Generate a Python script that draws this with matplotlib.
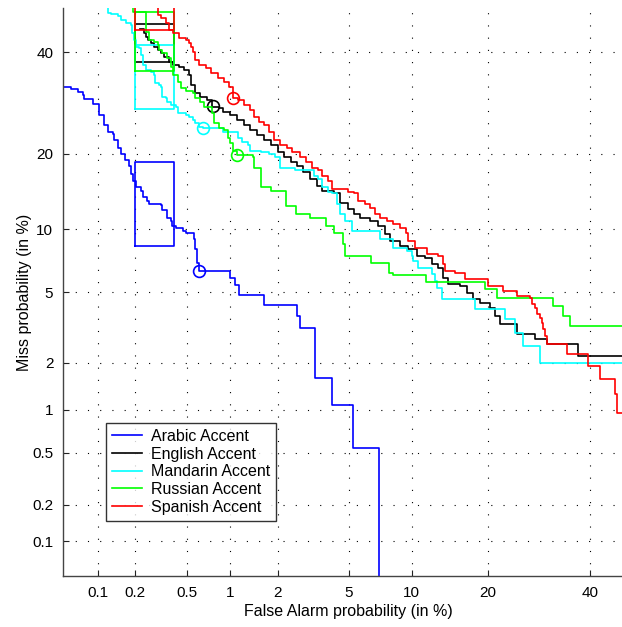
import math
import numpy as np
import matplotlib
matplotlib.use('Agg')
from matplotlib import pyplot as plt

plt.rcParams['font.family'] = ['Liberation Sans', 'DejaVu Sans']

# DET curves, values in % (false alarm, miss), drawn as steps
arabic_fa = [0.05, 0.0587, 0.0676, 0.0747, 0.0762, 0.0908, 0.1021, 0.1125, 0.1125, 0.1214,
             0.1336, 0.136, 0.1466, 0.1553, 0.167, 0.180, 0.187, 0.194, 0.2045, 0.224,
             0.232, 0.249, 0.259, 0.320, 0.329, 0.353, 0.379, 0.385, 0.412, 0.465,
             0.488, 0.557, 0.575, 0.585, 0.605, 1.00, 1.067, 1.15, 1.64, 2.62,
             2.73, 3.28, 4.07, 5.24, 7.12]
arabic_miss = [32.4, 31.96, 31.35, 30.74, 29.9, 28.9, 26.8, 26.4, 24.9, 23.6,
               23.4, 22.2, 21.0, 20.0, 18.9, 18.1, 16.9, 15.9, 14.96, 14.55,
               13.66, 13.27, 12.88, 12.77, 12.07, 11.26, 10.93, 10.40, 10.19, 9.88,
               9.68, 9.09, 8.18, 7.02, 6.41, 5.92, 5.45, 4.84, 4.28, 3.73,
               3.20, 1.61, 1.07, 0.539, 0.01]

english_fa = [0.220, 0.237, 0.245, 0.254, 0.268, 0.282, 0.302, 0.319, 0.336, 0.366,
              0.398, 0.435, 0.472, 0.513, 0.531, 0.575, 0.624, 0.698, 0.757, 0.833,
              0.887, 1.00, 1.115, 1.222, 1.355, 1.50, 1.64, 1.81, 2.00, 2.17,
              2.39, 2.62, 2.83, 3.10, 3.39, 3.63, 4.17, 4.53, 4.94, 5.30,
              5.74, 6.44, 7.03, 7.59, 8.01, 8.92, 9.68, 10.6, 11.47, 12.26,
              12.97, 13.59, 14.23, 15.84, 16.83, 17.72, 18.77, 20.36, 21.19, 22.04,
              25.04, 28.43, 30.83, 37.37, 50]
english_miss = [45.2, 44.3, 43.4, 42.7, 42.0, 41.1, 40.4, 39.8, 38.9, 37.8,
                37.1, 36.7, 36.0, 34.9, 32.8, 31.1, 30.3, 29.7, 28.3, 28.1,
                27.4, 26.8, 25.8, 24.9, 24.0, 23.1, 22.2, 21.4, 20.2, 19.4,
                18.6, 18.0, 17.1, 16.2, 15.2, 14.55, 14.2, 13.0, 12.3, 11.7,
                11.26, 10.93, 10.40, 9.58, 8.90, 8.45, 8.18, 7.58, 7.42, 6.95,
                6.64, 5.92, 5.52, 5.39, 4.96, 4.61, 4.4, 4.12, 3.73, 3.37,
                2.96, 2.77, 2.59, 2.19, 2.11]

mandarin_fa = [0.110, 0.121, 0.128, 0.147, 0.155, 0.170, 0.187, 0.190, 0.197, 0.2045,
               0.216, 0.224, 0.232, 0.245, 0.268, 0.282, 0.287, 0.308, 0.320, 0.329,
               0.348, 0.359, 0.379, 0.412, 0.427, 0.488, 0.514, 0.549, 0.575, 0.605,
               0.646, 0.887, 1.13, 1.20, 1.30, 1.355, 1.57, 1.76, 1.94, 2.08,
               2.55, 3.24, 3.41, 3.63, 3.87, 4.11, 4.37, 4.53, 4.82, 5.23,
               7.2, 8.28, 9.58, 10.08, 10.1, 10.7, 12.26, 12.6, 12.85, 13.46,
               18.0, 22.9, 24.7, 26.1, 29.4, 50]
mandarin_miss = [50.3, 48.9, 48.7, 48.2, 47.3, 46.6, 46.1, 44.3, 42.7, 41.1,
                 40.9, 39.3, 37.1, 36.0, 35.6, 34.9, 33.2, 32.8, 32.4, 30.3,
                 30.1, 29.3, 28.7, 28.3, 27.2, 26.8, 26.4, 25.8, 25.3, 24.5,
                 24.35, 23.6, 22.7, 21.9, 21.4, 20.5, 20.2, 20.0, 19.4, 17.8,
                 17.4, 16.6, 16.2, 14.96, 14.3, 14.2, 12.9, 11.7, 10.93, 9.88,
                 9.09, 8.28, 8.0, 7.58, 7.18, 6.64, 6.2, 5.72, 5.26, 4.61,
                 4.08, 3.59, 3.0, 2.52, 1.99, 1.99]

russian_fa = [0.187, 0.194, 0.245, 0.259, 0.282, 0.302, 0.308, 0.329, 0.359, 0.379,
              0.398, 0.427, 0.449, 0.488, 0.548, 0.575, 0.624, 0.657, 0.757, 0.770,
              0.833, 0.901, 0.959, 1.00, 1.05, 1.115, 1.40, 1.42, 1.57, 1.81,
              2.26, 2.58, 3.1, 3.8, 4.2, 4.7, 4.82, 6.5, 7.9, 8.28,
              11.5, 19.6, 21.5, 32.0, 34.1, 35.6, 50]
russian_miss = [50.5, 49.2, 44.5, 42.7, 42.3, 41.6, 40.4, 39.8, 38.7, 36.7,
                34.9, 33.4, 32.2, 31.6, 31.1, 30.1, 29.3, 28.3, 27.2, 25.3,
                24.35, 24.0, 22.6, 21.7, 20.5, 19.7, 19.4, 17.8, 14.96, 14.55,
                12.65, 11.7, 11.26, 10.4, 9.68, 8.63, 7.58, 7.0, 6.27, 6.13,
                5.65, 5.2, 4.67, 4.24, 3.73, 3.28, 3.28]

spanish_fa = [0.282, 0.302, 0.320, 0.348, 0.366, 0.398, 0.435, 0.488, 0.514, 0.531,
              0.548, 0.575, 0.605, 0.677, 0.734, 0.820, 0.901, 0.975, 1.035, 1.05,
              1.13, 1.222, 1.355, 1.42, 1.53, 1.64, 1.76, 1.89, 2.08, 2.29,
              2.45, 2.73, 2.92, 3.19, 3.41, 3.63, 3.87, 4.11, 4.94, 5.30,
              5.61, 6.08, 6.44, 6.81, 7.2, 7.76, 8.28, 8.92, 9.40, 9.68,
              10.39, 11.68, 12.97, 13.59, 13.85, 15.14, 16.56, 20.05, 22.54, 25.04,
              27.5, 27.86, 28.43, 28.84, 29.42, 29.84, 30.03, 30.43, 30.83, 34.98,
              39.55, 42.2, 45.65, 46.1, 50]
spanish_miss = [50.5, 48.5, 47.8, 46.6, 45.0, 44.3, 43.2, 42.7, 42.0, 41.1,
                40.0, 38.2, 37.1, 36.4, 35.4, 34.3, 33.4, 32.4, 30.7, 30.1,
                29.7, 28.7, 27.7, 26.4, 25.5, 24.9, 23.6, 22.2, 21.4, 21.0,
                20.2, 19.4, 18.6, 17.7, 17.4, 16.6, 15.9, 14.8, 14.3, 14.2,
                13.27, 12.88, 12.4, 11.7, 11.26, 10.93, 10.6, 10.19, 9.68, 8.9,
                8.28, 7.75, 7.58, 6.95, 6.41, 6.27, 5.86, 5.39, 5.08, 4.79,
                4.67, 4.34, 4.13, 3.83, 3.64, 3.42, 3.16, 2.88, 2.59, 2.26,
                1.91, 1.58, 1.27, 0.946, 0.946]

labels = ['Arabic Accent', 'English Accent', 'Mandarin Accent', 'Russian Accent', 'Spanish Accent']
colors = ['#0000ff', '#000000', '#00ffff', '#00ff00', '#ff0000']
# operating points (circles)
op_fa = [0.605, 0.76, 0.646, 1.115, 1.05]
op_miss = [6.41, 28.6, 24.4, 19.7, 30.1]
# boxes: false alarm 0.2-0.4 %, miss range per accent
box_fa = [0.2, 0.4]
box_lo = [8.45, 37.8, 27.9, 35.8, 45.0]
box_hi = [18.6, 46.4, 41.7, 49.2, 55.0]

ticks = [0.1, 0.2, 0.5, 1, 2, 5, 10, 20, 40]
tick_labels = ['0.1', '0.2', '0.5', '1', '2', '5', '10', '20', '40']


# normal deviate scale (probit), inverse CDF after Acklam
A = [-3.969683028665376e+01, 2.209460984245205e+02, -2.759285104469687e+02,
     1.383577518672690e+02, -3.066479806614716e+01, 2.506628277459239e+00]
B = [-5.447609879822406e+01, 1.615858368580409e+02, -1.556989798598866e+02,
     6.680131188771972e+01, -1.328068155288572e+01]
C = [-7.784894002430293e-03, -3.223964580411365e-01, -2.400758277161838e+00,
     -2.549671348234160e+00, 4.374664141464968e+00, 2.938163982698783e+00]
D = [7.784695709041462e-03, 3.224671290700398e-01, 2.445134137142996e+00,
     3.754408661907416e+00]


def ppf(p):
    p = np.clip(np.asarray(p, dtype=float), 1e-12, 1 - 1e-12)
    q = p - 0.5
    r = q * q
    central = (((((A[0]*r + A[1])*r + A[2])*r + A[3])*r + A[4])*r + A[5]) * q / \
              (((((B[0]*r + B[1])*r + B[2])*r + B[3])*r + B[4])*r + 1)
    t = np.sqrt(-2 * np.log(np.minimum(p, 1 - p)))
    tail = (((((C[0]*t + C[1])*t + C[2])*t + C[3])*t + C[4])*t + C[5]) / \
           ((((D[0]*t + D[1])*t + D[2])*t + D[3])*t + 1)
    tail = np.where(p < 0.5, tail, -tail)
    return np.where(np.abs(q) <= 0.5 - 0.02425, central, tail)


_erfc = np.vectorize(math.erfc)


def fwd(x):
    return ppf(np.asarray(x, dtype=float) / 100.0)


def inv(z):
    z = np.asarray(z, dtype=float)
    return 50.0 * _erfc(-z / math.sqrt(2))


fig = plt.figure(figsize=(6.22, 6.27), dpi=100)
ax = fig.add_axes([63 / 622, 51 / 627, 571 / 622, 567.6 / 627])
ax.set_xscale('function', functions=(fwd, inv))
ax.set_yscale('function', functions=(fwd, inv))

series = [(arabic_fa, arabic_miss), (english_fa, english_miss), (mandarin_fa, mandarin_miss),
          (russian_fa, russian_miss), (spanish_fa, spanish_miss)]
for i, (fa, miss) in enumerate(series):
    ax.plot(fa, miss, drawstyle='steps-post', color=colors[i], lw=1.2, label=labels[i])
    ax.plot([box_fa[0], box_fa[1], box_fa[1], box_fa[0], box_fa[0]],
            [box_lo[i], box_lo[i], box_hi[i], box_hi[i], box_lo[i]], color=colors[i], lw=1.2)
    ax.plot(op_fa[i], op_miss[i], 'o', ms=8.5, mfc='none', mec=colors[i], mew=1.2)

ax.set_xlim(0.05, 50)
ax.set_ylim(0.05, 50)
ax.set_xticks(ticks)
ax.set_xticklabels(tick_labels)
ax.set_yticks(ticks)
ax.set_yticklabels(tick_labels)
ax.minorticks_off()
ax.tick_params(direction='in', length=4, width=0.8, labelsize=11, pad=7, colors='#222222',
               labelcolor='k')
ax.grid(True, color='k', linestyle=(0, (1, 10)), linewidth=0.8)
for s in ['top', 'right']:
    ax.spines[s].set_visible(False)
for s in ['left', 'bottom']:
    ax.spines[s].set_color('#444444')
    ax.spines[s].set_linewidth(1.0)

ax.set_xlabel('False Alarm probability (in %)', fontsize=11.5, labelpad=3)
ax.set_ylabel('Miss probability (in %)', fontsize=11.5, labelpad=0)

leg = ax.legend(loc='upper left', bbox_to_anchor=(0.075, 0.27), fontsize=11.5, frameon=True,
                fancybox=False, borderpad=0.38, labelspacing=0.17, handlelength=1.9,
                handletextpad=0.55, borderaxespad=0)
leg.get_frame().set_edgecolor('k')
leg.get_frame().set_linewidth(1.0)

fig.savefig('out.png', dpi=100)
